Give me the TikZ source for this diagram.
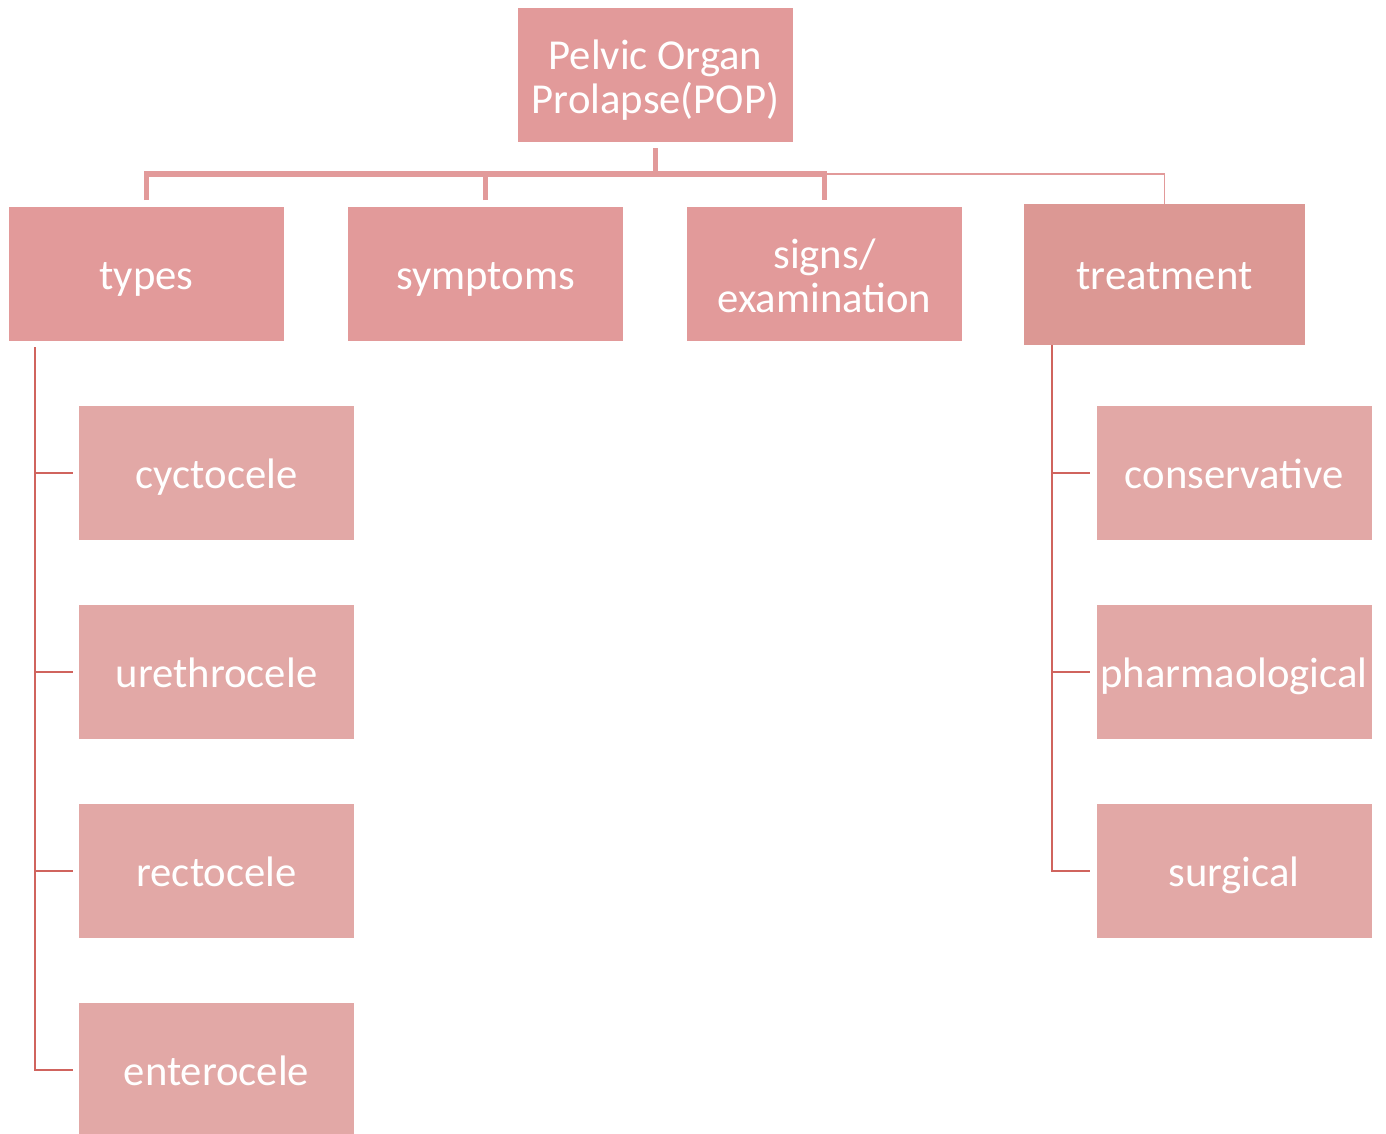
\documentclass[tikz,border=0pt]{standalone}
\usepackage{fontspec}
\setmainfont{Carlito}
\definecolor{topfill}{RGB}{226,154,154}
\definecolor{subfill}{RGB}{226,168,166}
\definecolor{trfill}{RGB}{220,152,148}
\definecolor{vcol}{RGB}{208,100,94}
\begin{document}
\begin{tikzpicture}[x=0.75pt,y=-0.75pt,
  box/.style={fill=topfill,draw=none,minimum width=206.25pt,minimum height=100.5pt,inner sep=0pt,
    text=white,align=center,font=\fontsize{32}{33}\selectfont,text height=30.5pt,text depth=8pt},
  twoline/.style={text height=65pt,text depth=8pt},
  subbox/.style={box,fill=subfill},
  bar/.style={draw=topfill,line width=3.8pt},
  thinbar/.style={draw=topfill,line width=1.4pt},
  vline/.style={draw=vcol,line width=2pt}]
\useasboundingbox (0,0) rectangle (1386,1133);
\node[box,twoline] (root) at (655.5,75) {Pelvic Organ\\Prolapse(POP)};
\node[box] (types) at (146.5,274) {types};
\node[box] (symptoms) at (485.5,274) {symptoms};
\node[box,twoline] (signs) at (824.5,274) {signs/\\examination};
\node[box,fill=trfill,minimum width=210.75pt,minimum height=105.75pt] (treatment) at (1164.5,274.5) {treatment};
\node[subbox] (cyst) at (216.5,473) {cyctocele};
\node[subbox] (ureth) at (216.5,672) {urethrocele};
\node[subbox] (recto) at (216.5,871) {rectocele};
\node[subbox] (entero) at (216.5,1070) {enterocele};
\node[subbox] (cons) at (1234,473) {conservative};
\node[subbox] (pharm) at (1234,672) {pharmaological};
\node[subbox] (surg) at (1234,871) {surgical};
\coordinate (bus) at (0,174);
\coordinate (lx) at (35,347);
\coordinate (rx) at (1052,345);
\draw[thinbar] (signs.north |- bus) -| (treatment.north);
\draw[bar] ([yshift=-4.5pt]root.south) -- (root.south |- bus);
\draw[bar] ([yshift=5pt]types.north) |- (signs.north |- bus) -- ([yshift=5pt]signs.north);
\draw[bar] ([yshift=5pt]symptoms.north) -- (symptoms.north |- bus);
\draw[vline] (lx) |- ([xshift=-4.5pt]entero.west);
\draw[vline] (lx |- cyst.west) -- ([xshift=-4.5pt]cyst.west);
\draw[vline] (lx |- ureth.west) -- ([xshift=-4.5pt]ureth.west);
\draw[vline] (lx |- recto.west) -- ([xshift=-4.5pt]recto.west);
\draw[vline] (rx) |- ([xshift=-4.5pt]surg.west);
\draw[vline] (rx |- cons.west) -- ([xshift=-4.5pt]cons.west);
\draw[vline] (rx |- pharm.west) -- ([xshift=-4.5pt]pharm.west);
\end{tikzpicture}
\end{document}
